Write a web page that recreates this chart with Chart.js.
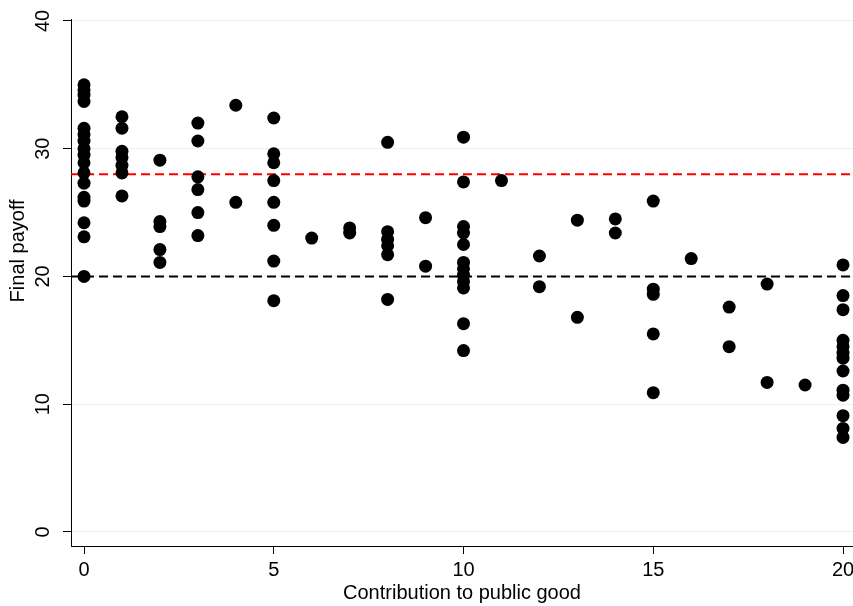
<!DOCTYPE html>
<html>
<head>
<meta charset="utf-8">
<script src="https://cdn.jsdelivr.net/npm/chart.js@4.4.1/dist/chart.umd.min.js"></script>
<style>
    body { margin: 0; background: #fff; }
    #wrap { width: 853px; height: 606px; }
</style>
</head>
<body>
<div id="wrap"><canvas id="payoffChart" width="853" height="606"></canvas></div>
<script>
// Contribution levels (x) and the final payoffs observed at each level
const contributions = [0, 1, 2, 3, 4, 5, 6, 7, 8, 9, 10, 11, 12, 13, 14, 15, 16, 17, 18, 19, 20];
const payoffs = [
    [35.0, 34.6, 34.2, 33.7, 31.6, 31.1, 30.6, 30.0, 29.5, 28.9, 28.1, 27.3, 26.2, 25.9, 24.2, 23.1, 20.0],
    [32.5, 31.6, 29.8, 29.3, 28.7, 28.1, 26.3],
    [29.1, 24.3, 23.9, 22.1, 21.1],
    [32.0, 30.6, 27.8, 26.8, 25.0, 23.2],
    [33.4, 25.8],
    [32.4, 29.6, 28.9, 27.5, 25.8, 24.0, 21.2, 18.1],
    [23.0],
    [23.8, 23.4],
    [30.5, 23.5, 22.9, 22.4, 21.7, 18.2],
    [24.6, 20.8],
    [30.9, 27.4, 23.9, 23.4, 22.5, 21.1, 20.6, 20.1, 19.6, 19.1, 16.3, 14.2],
    [27.5],
    [21.6, 19.2],
    [24.4, 16.8],
    [24.5, 23.4],
    [25.9, 19.0, 18.6, 15.5, 10.9],
    [21.4],
    [17.6, 14.5],
    [19.4, 11.7],
    [11.5],
    [20.9, 18.5, 17.4, 15.0, 14.5, 14.0, 13.6, 12.6, 11.1, 10.7, 9.1, 8.1, 7.4]
];
const xTicks = [0, 5, 10, 15, 20];
const yTicks = [0, 10, 20, 30, 40];
const redLineY = 28;
const blackLineY = 20;

const X_MIN = -0.343, X_MAX = 20.263;
const Y_MIN = -1.1, Y_MAX = 40.15;
const FONT = '"Liberation Sans", Arial, sans-serif';

// flatten into scatter points
const points = [];
contributions.forEach((c, i) => {
    payoffs[i].forEach(p => points.push({ x: c, y: p }));
});

// Stata style y labels and y title: rotated, drawn by hand
const rotatedYLabels = {
    id: 'rotatedYLabels',
    afterDraw(chart) {
        const ctx = chart.ctx;
        const yScale = chart.scales.y;
        ctx.save();
        ctx.fillStyle = '#000';
        ctx.textAlign = 'center';
        ctx.textBaseline = 'middle';
        ctx.font = '20px ' + FONT;
        yTicks.forEach(v => {
            const py = yScale.getPixelForValue(v);
            ctx.save();
            ctx.translate(43, py);
            ctx.rotate(-Math.PI / 2);
            ctx.fillText(String(v), 0, 0);
            ctx.restore();
        });
        // axis title sits a bit above the middle of the axis
        ctx.translate(18, yScale.getPixelForValue(22));
        ctx.rotate(-Math.PI / 2);
        ctx.fillText('Final payoff', 0, 0);
        ctx.restore();
    }
};

new Chart(document.getElementById('payoffChart').getContext('2d'), {
    type: 'scatter',
    data: {
        datasets: [{
            type: 'line',
            data: [{ x: X_MIN, y: redLineY }, { x: X_MAX, y: redLineY }],
            borderColor: '#ff0000',
            borderWidth: 2,
            borderDash: [9, 5],
            pointRadius: 0,
            order: 2
        }, {
            type: 'line',
            data: [{ x: X_MIN, y: blackLineY }, { x: X_MAX, y: blackLineY }],
            borderColor: '#000000',
            borderWidth: 2,
            borderDash: [9, 5],
            pointRadius: 0,
            order: 2
        }, {
            label: 'Final payoff',
            data: points,
            backgroundColor: '#000',
            borderColor: '#000',
            pointRadius: 6.5,
            pointBorderWidth: 0,
            order: 1
        }]
    },
    options: {
        responsive: false,
        animation: false,
        layout: { autoPadding: false, padding: { top: 19, right: 0, bottom: 0, left: 0 } },
        plugins: {
            legend: { display: false },
            tooltip: { enabled: false }
        },
        scales: {
            x: {
                type: 'linear',
                min: X_MIN,
                max: X_MAX,
                afterBuildTicks: s => { s.ticks = xTicks.map(v => ({ value: v })); },
                afterFit: s => { s.height = 60; s.paddingLeft = 0; s.paddingRight = 0; },
                grid: { drawOnChartArea: false, tickLength: 8, tickColor: '#000' },
                border: { color: '#000', width: 1 },
                ticks: { color: '#000', font: { size: 20, family: FONT }, padding: 4, maxRotation: 0 },
                title: {
                    display: true,
                    text: 'Contribution to public good',
                    color: '#000',
                    font: { size: 20, family: FONT },
                    padding: { top: 0, bottom: 1 }
                }
            },
            y: {
                type: 'linear',
                min: Y_MIN,
                max: Y_MAX,
                afterBuildTicks: s => { s.ticks = yTicks.map(v => ({ value: v })); },
                afterFit: s => { s.width = 71; s.paddingTop = 0; s.paddingBottom = 0; },
                grid: { color: '#eaf2f3', lineWidth: 1, tickLength: 8, tickColor: '#000' },
                border: { color: '#000', width: 1 },
                ticks: { display: false },
                title: { display: false }
            }
        }
    },
    plugins: [rotatedYLabels]
});
</script>
</body>
</html>
